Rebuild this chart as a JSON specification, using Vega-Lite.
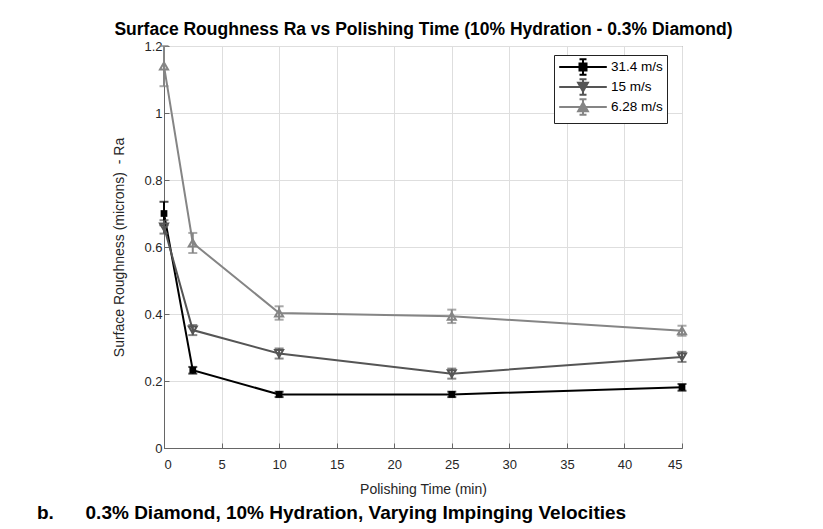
{
  "$schema": "https://vega.github.io/schema/vega-lite/v6.json",
  "width": 518,
  "height": 402,
  "autosize": {"type": "none"},
  "padding": {"left": 164, "top": 46, "right": 141, "bottom": 81},
  "background": "white",
  "view": {"stroke": "#666666", "strokeWidth": 1},
  "title": {
    "text": "b.\u00a0\u00a0\u00a0\u00a0\u00a0\u00a00.3% Diamond, 10% Hydration, Varying Impinging Velocities",
    "orient": "bottom",
    "anchor": "start",
    "frame": "group",
    "dx": -127,
    "offset": 8,
    "font": "Liberation Sans",
    "fontSize": 19,
    "fontWeight": "bold",
    "color": "black"
  },
  "config": {
    "font": "Liberation Sans",
    "axis": {
      "labelFont": "Liberation Sans",
      "labelFontSize": 13,
      "labelColor": "#262626",
      "titleFont": "Liberation Sans",
      "titleFontSize": 14,
      "titleFontWeight": "normal",
      "titleColor": "#262626",
      "gridColor": "#dedede",
      "gridWidth": 1,
      "domainColor": "#666666",
      "tickColor": "#666666"
    }
  },
  "data": {
    "values": [
      {"t": 0, "ra": 0.70, "err": 0.035, "v": "31.4 m/s"},
      {"t": 2.5, "ra": 0.232, "err": 0.01, "v": "31.4 m/s"},
      {"t": 10, "ra": 0.16, "err": 0.008, "v": "31.4 m/s"},
      {"t": 25, "ra": 0.16, "err": 0.008, "v": "31.4 m/s"},
      {"t": 45, "ra": 0.181, "err": 0.01, "v": "31.4 m/s"},
      {"t": 0, "ra": 0.66, "err": 0.02, "v": "15 m/s"},
      {"t": 2.5, "ra": 0.352, "err": 0.015, "v": "15 m/s"},
      {"t": 10, "ra": 0.282, "err": 0.015, "v": "15 m/s"},
      {"t": 25, "ra": 0.222, "err": 0.015, "v": "15 m/s"},
      {"t": 45, "ra": 0.272, "err": 0.015, "v": "15 m/s"},
      {"t": 0, "ra": 1.14, "err": 0.06, "v": "6.28 m/s"},
      {"t": 2.5, "ra": 0.612, "err": 0.03, "v": "6.28 m/s"},
      {"t": 10, "ra": 0.403, "err": 0.02, "v": "6.28 m/s"},
      {"t": 25, "ra": 0.393, "err": 0.02, "v": "6.28 m/s"},
      {"t": 45, "ra": 0.350, "err": 0.015, "v": "6.28 m/s"}
    ]
  },
  "layer": [
    {
      "mark": {"type": "line", "strokeWidth": 2},
      "encoding": {
        "x": {
          "field": "t", "type": "quantitative",
          "scale": {"domain": [0, 45], "nice": false},
          "axis": {
            "values": [0, 5, 10, 15, 20, 25, 30, 35, 40, 45],
            "title": "Polishing Time (min)",
            "grid": true,
            "domain": true,
            "tickSize": -5,
            "labelPadding": 15,
            "titlePadding": 11
          }
        },
        "y": {
          "field": "ra", "type": "quantitative",
          "title": "Surface Roughness (microns) \u00a0- Ra",
          "scale": {"domain": [0, 1.2], "nice": false},
          "axis": {
            "values": [0, 0.2, 0.4, 0.6, 0.8, 1, 1.2],
            "format": "~g",
            "grid": true,
            "domain": true,
            "tickSize": -5,
            "labelPadding": 7,
            "titlePadding": 17
          }
        },
        "color": {
          "field": "v", "type": "nominal",
          "scale": {"domain": ["31.4 m/s", "15 m/s", "6.28 m/s"], "range": ["#000000", "#555555", "#858585"]},
          "legend": {
            "orient": "none", "legendX": 390, "legendY": 9, "title": null,
            "strokeColor": "#222222", "fillColor": "white", "padding": 4,
            "labelFontSize": 13.5, "labelColor": "#000000", "symbolSize": 196, "symbolStrokeWidth": 2,
            "rowPadding": -4.5, "symbolOffset": 17, "labelOffset": 20,
            "encode": {
              "symbols": {
                "update": {
                  "shape": {"signal": "datum.value === '31.4 m/s' ? 'M-3.4,0H3.4M-0.5,-0.5H0.5V0.5H-0.5ZM0,-1.1V1.1M-0.5,-1.1H0.5M-0.5,1.1H0.5' : datum.value === '15 m/s' ? 'M-3.4,0H3.4M-0.7,-0.6L0.7,-0.6L0,0.65ZM0,-1.1V1.1M-0.5,-1.1H0.5M-0.5,1.1H0.5' : 'M-3.4,0H3.4M-0.7,0.6L0.7,0.6L0,-0.65ZM0,-1.1V1.1M-0.5,-1.1H0.5M-0.5,1.1H0.5'"},
                  "fill": {"signal": "datum.value === '31.4 m/s' ? '#000000' : 'transparent'"},
                  "opacity": {"value": 1}
                }
              }
            }
          }
        }
      }
    },
    {
      "mark": {"type": "errorbar", "ticks": {"size": 9, "strokeWidth": 2}, "thickness": 2},
      "encoding": {
        "x": {"field": "t", "type": "quantitative", "axis": null},
        "y": {"field": "ra", "type": "quantitative", "title": "Surface Roughness (microns) \u00a0- Ra"},
        "yError": {"field": "err"},
        "color": {"field": "v", "type": "nominal"}
      }
    },
    {
      "transform": [{"filter": "datum.v === '31.4 m/s'"}],
      "mark": {"type": "point", "shape": "square", "size": 45, "filled": true, "color": "#000000", "opacity": 1},
      "encoding": {
        "x": {
          "field": "t", "type": "quantitative",
          "axis": {"orient": "top", "labels": false, "ticks": false, "domain": false, "grid": false,
            "title": "Surface Roughness Ra vs Polishing Time (10% Hydration - 0.3% Diamond)",
            "titleFontSize": 17.5, "titleFontWeight": "bold", "titleColor": "#000000", "titlePadding": 8}
        },
        "y": {"field": "ra", "type": "quantitative", "title": "Surface Roughness (microns) \u00a0- Ra"}
      }
    },
    {
      "transform": [{"filter": "datum.v === '15 m/s'"}],
      "mark": {"type": "point", "shape": "triangle-down", "size": 65, "filled": false, "color": "#555555", "strokeWidth": 2, "opacity": 1},
      "encoding": {
        "x": {"field": "t", "type": "quantitative", "axis": null},
        "y": {"field": "ra", "type": "quantitative", "title": "Surface Roughness (microns) \u00a0- Ra"}
      }
    },
    {
      "transform": [{"filter": "datum.v === '6.28 m/s'"}],
      "mark": {"type": "point", "shape": "triangle-up", "size": 65, "filled": false, "color": "#858585", "strokeWidth": 2, "opacity": 1},
      "encoding": {
        "x": {"field": "t", "type": "quantitative", "axis": null},
        "y": {"field": "ra", "type": "quantitative", "title": "Surface Roughness (microns) \u00a0- Ra"}
      }
    }
  ],
  "resolve": {"axis": {"x": "independent"}}
}
